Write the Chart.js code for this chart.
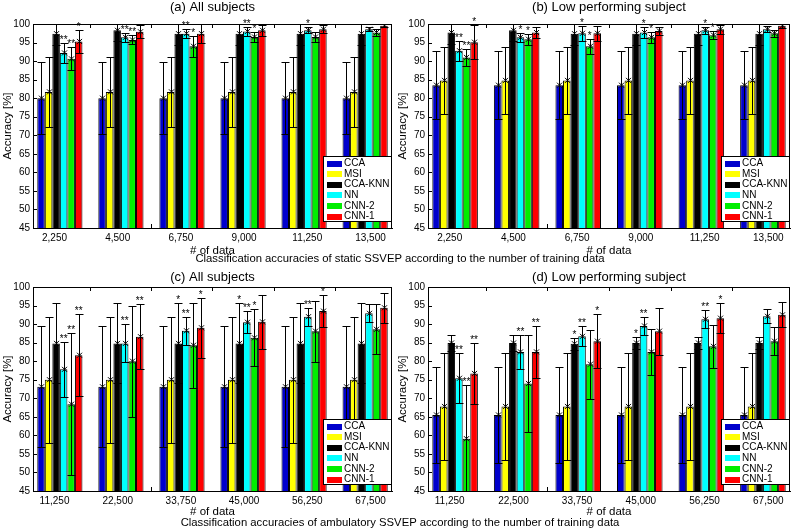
<!DOCTYPE html>
<html><head><meta charset="utf-8">
<script src="https://cdn.jsdelivr.net/npm/chart.js@4.4.0/dist/chart.umd.min.js"></script>
<style>
body{margin:0;background:#fff;width:800px;height:531px;position:relative;overflow:hidden;font-family:"Liberation Sans",Arial,sans-serif;color:#000;}
canvas{position:absolute;}
.cap{position:absolute;left:0;width:800px;text-align:center;font-size:11.3px;line-height:14px;white-space:nowrap;}
</style></head><body>
<canvas id="ca" width="400" height="262" style="left:0;top:0"></canvas>
<canvas id="cb" width="405" height="262" style="left:395px;top:0"></canvas>
<canvas id="cc" width="400" height="266" style="left:0;top:265px"></canvas>
<canvas id="cd" width="405" height="266" style="left:395px;top:265px"></canvas>
<div class="cap" style="top:251px">Classification accuracies of static SSVEP according to the number of training data</div>
<div class="cap" style="top:515px">Classification accuracies of ambulatory SSVEP according to the number of training data</div>
<script>
const methods = ['CCA','MSI','CCA-KNN','NN','CNN-2','CNN-1'];
const barColors = ['#0000cc','#ffff00','#000000','#00ffff','#00ee00','#ff0000'];
const staticSizes = ['2,250','4,500','6,750','9,000','11,250','13,500'];
const ambulatorySizes = ['11,250','22,500','33,750','45,000','56,250','67,500'];
const accuracyTicks = [45,50,55,60,65,70,75,80,85,90,95,100];

// (a) static, all subjects
const meanA = [
  [80.0,80.0,80.0,80.0,80.0,80.0],
  [81.7,81.7,81.7,81.7,81.7,81.7],
  [97.4,98.3,97.4,97.4,97.4,97.4],
  [92.2,96.4,97.4,98.0,98.3,98.6],
  [90.6,95.7,94.0,96.5,96.5,97.7],
  [95.3,97.9,97.4,98.3,98.6,99.5]
];
const errA = [
  [9.7,9.7,9.7,9.7,9.7,9.7],
  [9.4,9.4,9.4,9.4,9.4,9.4],
  [3.0,3.0,3.0,3.0,3.0,3.0],
  [2.8,1.2,1.3,1.3,0.8,0.6],
  [3.1,1.2,2.8,1.3,1.3,1.0],
  [3.2,1.7,2.5,1.5,1.0,0.4]
];
const starA = [
  ['','','','','',''],
  ['','','','','',''],
  ['','','','','',''],
  ['**','**','**','**','*',''],
  ['**','**','*','*','',''],
  ['*','','','','','']
];
// (b) static, low performing subject
const meanB = [
  [83.5,83.5,83.5,83.5,83.5,83.5],
  [84.8,84.8,84.8,84.8,84.8,84.8],
  [97.7,98.3,97.4,97.4,97.4,97.4],
  [92.8,96.4,97.5,97.7,98.3,98.6],
  [91.0,95.9,94.0,96.4,97.0,97.5],
  [95.1,97.7,97.5,98.1,98.6,99.5]
];
const errB = [
  [9.1,9.1,9.1,9.1,9.1,9.1],
  [9.1,9.1,9.1,9.1,9.1,9.1],
  [3.0,3.0,3.0,3.0,3.0,3.0],
  [2.7,1.3,2.0,1.5,0.9,0.8],
  [2.3,1.5,2.0,1.5,1.0,1.0],
  [4.5,1.5,2.0,1.2,1.2,0.5]
];
const starB = [
  ['','','','','',''],
  ['','','','','',''],
  ['','','','','',''],
  ['**','*','*','*','*',''],
  ['**','*','*','*','*',''],
  ['*','','','','','']
];
// (c) ambulatory, all subjects
const meanC = [
  [73.1,73.1,73.1,73.1,73.1,73.1],
  [75.0,75.0,75.0,75.0,75.0,75.0],
  [84.8,84.8,84.8,84.8,84.8,84.8],
  [77.8,84.8,88.2,90.5,92.0,92.9],
  [68.4,80.0,84.3,86.3,88.1,88.6],
  [81.6,86.6,89.0,90.6,93.5,94.4]
];
const errC = [
  [16.3,16.3,16.3,16.3,16.3,16.3],
  [17.0,17.0,17.0,17.0,17.0,17.0],
  [10.8,10.8,10.8,10.8,10.8,10.8],
  [7.4,5.1,3.8,3.0,2.4,2.4],
  [19.2,15.0,11.4,7.7,8.2,6.7],
  [11.0,8.7,8.1,7.3,4.3,4.0]
];
const starC = [
  ['','','','','',''],
  ['','','','','',''],
  ['','','*','*','',''],
  ['**','**','**','**','**',''],
  ['**','','','*','',''],
  ['**','**','*','','*','']
];
// (d) ambulatory, low performing subject
const meanD = [
  [65.5,65.5,65.5,65.5,65.5,65.5],
  [67.8,67.8,67.8,67.8,67.8,67.8],
  [84.9,84.9,84.7,84.9,84.9,84.9],
  [75.4,82.5,86.7,89.5,91.3,92.1],
  [59.1,74.0,79.2,82.5,84.0,85.4],
  [76.7,82.5,85.4,88.1,91.6,92.5]
];
const errD = [
  [13.0,13.0,13.0,13.0,13.0,13.0],
  [14.5,14.5,14.5,14.5,14.5,14.5],
  [2.1,2.1,1.6,1.5,1.5,1.5],
  [6.8,4.5,2.7,2.4,2.4,1.9],
  [14.5,13.0,9.3,6.2,5.8,3.7],
  [8.2,7.0,7.3,6.3,4.1,3.4]
];
const starD = [
  ['','','','','',''],
  ['','','','','',''],
  ['','','*','*','',''],
  ['**','**','**','**','**',''],
  ['**','','','','',''],
  ['**','**','*','','*','']
];

const FONT = '"Liberation Sans", Arial, sans-serif';
Chart.defaults.font.family = FONT;
Chart.defaults.color = '#000';
const LABEL_SPREAD = 1.035;

const extras = {
  id: 'extras',
  afterDatasetsDraw(chart) {
    const {ctx, chartArea: a, scales: {y}} = chart;
    ctx.save();
    ctx.beginPath(); ctx.rect(a.left, a.top, a.right - a.left, a.bottom - a.top); ctx.clip();
    ctx.strokeStyle = '#000'; ctx.lineWidth = 1;
    chart.data.datasets.forEach((ds, di) => {
      chart.getDatasetMeta(di).data.forEach((bar, i) => {
        const m = ds.data[i].y, e = ds.err[i];
        const bx = Math.round(bar.x) + 0.5;
        const yt = Math.round(y.getPixelForValue(m + e)) + 0.5;
        const yb = Math.round(y.getPixelForValue(m - e)) + 0.5;
        const ym = y.getPixelForValue(m);
        ctx.beginPath();
        ctx.moveTo(bx, yt); ctx.lineTo(bx, yb);
        ctx.moveTo(bx - 4, yt); ctx.lineTo(bx + 4, yt);
        ctx.moveTo(bx - 4, yb); ctx.lineTo(bx + 4, yb);
        ctx.moveTo(bx - 2.5, ym - 2.5); ctx.lineTo(bx + 2.5, ym + 2.5);
        ctx.moveTo(bx - 2.5, ym + 2.5); ctx.lineTo(bx + 2.5, ym - 2.5);
        ctx.stroke();
      });
    });
    ctx.restore();
    ctx.save();
    ctx.fillStyle = '#000'; ctx.font = '10px ' + FONT; ctx.textAlign = 'center'; ctx.textBaseline = 'alphabetic';
    chart.data.datasets.forEach((ds, di) => {
      chart.getDatasetMeta(di).data.forEach((bar, i) => {
        const s = ds.stars[i]; if (!s) return;
        const m = ds.data[i].y, e = ds.err[i];
        const yt = y.getPixelForValue(m + e);
        ctx.fillText(s, bar.x, yt);
      });
    });
    ctx.restore();
  },
  afterDraw(chart) {
    const {ctx, chartArea: a, scales: {x, y}} = chart;
    const g = chart.options.plugins.extras;
    ctx.save();
    ctx.strokeStyle = '#000'; ctx.lineWidth = 1;
    ctx.beginPath();
    ctx.moveTo(a.left, a.top + 0.5); ctx.lineTo(a.right, a.top + 0.5);
    ctx.moveTo(a.right - 0.5, a.top); ctx.lineTo(a.right - 0.5, a.bottom);
    accuracyTicks.forEach(v => {
      const py = Math.round(y.getPixelForValue(v)) + 0.5;
      ctx.moveTo(a.left, py); ctx.lineTo(a.left + 4, py);
    });
    [1.5, 2.5, 3.5, 4.5, 5.5].forEach(v => {
      const px = Math.round(x.getPixelForValue(v)) + 0.5;
      ctx.moveTo(px, a.top); ctx.lineTo(px, a.top + 4);
    });
    const pb = Math.round(x.getPixelForValue(2.5)) + 0.5;
    ctx.moveTo(pb, a.bottom); ctx.lineTo(pb, a.bottom - 4);
    ctx.stroke();
    // title centred over the plot frame
    ctx.fillStyle = '#000'; ctx.font = '13px ' + FONT; ctx.textAlign = 'center'; ctx.textBaseline = 'middle';
    ctx.fillText(g.title, (a.left + a.right) / 2, g.titleY);
    // legend
    const w = 69, h = 66;
    const lx = Math.round(a.right - w), ly = Math.round(a.bottom - 6 - h);
    ctx.fillStyle = '#fff'; ctx.fillRect(lx, ly, w, h);
    ctx.strokeRect(lx + 0.5, ly + 0.5, w - 1, h - 1);
    ctx.font = '10px ' + FONT; ctx.textBaseline = 'middle'; ctx.textAlign = 'left';
    chart.data.datasets.forEach((ds, i) => {
      const cy = ly + 7.5 + i * 10.6;
      ctx.fillStyle = ds.backgroundColor; ctx.fillRect(lx + 4, Math.round(cy - 3), 15, 6);
      ctx.fillStyle = '#000'; ctx.fillText(ds.label, lx + 21, cy);
    });
    ctx.restore();
  }
};

function makePanel(id, title, cats, means, errs, stars, g) {
  const datasets = methods.map((name, k) => ({
    label: name,
    data: means[k].map((v, i) => ({x: i + 1, y: v})),
    err: errs[k],
    stars: stars[k],
    backgroundColor: barColors[k],
    borderColor: '#000',
    borderWidth: 1,
    borderSkipped: false,
    barPercentage: 1.0,
    categoryPercentage: 0.74
  }));
  new Chart(document.getElementById(id), {
    type: 'bar',
    data: {datasets},
    plugins: [extras],
    options: {
      responsive: false,
      animation: false,
      layout: {padding: {left: 0, right: g.padRight, top: g.top, bottom: 0}},
      plugins: {
        legend: {display: false},
        tooltip: {enabled: false},
        title: {display: false},
        extras: {title: title, titleY: g.titleY}
      },
      scales: {
        x: {
          type: 'linear', min: 0.56, max: 6.44, offset: false,
          grid: {display: false, drawTicks: false},
          border: {display: true, color: '#000', width: 1},
          afterBuildTicks: s => { s.ticks = cats.map((c, i) => ({value: 3.5 + (i + 1 - 3.5) * LABEL_SPREAD})); },
          afterFit: s => { s.height = g.xH; },
          ticks: {autoSkip: false, maxRotation: 0, padding: 4, font: {size: 10}, color: '#000',
                  callback: (v, idx) => cats[idx]},
          title: {display: true, text: '# of data', font: {size: 11.5}, color: '#000',
                  padding: {top: 0, bottom: g.xtB}}
        },
        y: {
          min: 45, max: 100,
          grid: {display: false, drawTicks: false},
          border: {display: true, color: '#000', width: 1},
          afterBuildTicks: s => { s.ticks = accuracyTicks.map(v => ({value: v})); },
          afterFit: s => { s.width = 33; },
          ticks: {padding: 3, font: {size: 10}, color: '#000'},
          title: {display: true, text: 'Accuracy [%]', font: {size: 11.5}, color: '#000',
                  padding: {top: 1, bottom: 0}}
        }
      }
    }
  });
}

const gTop = {padRight: 8, top: 24, titleY: 7.5, xH: 34, xtB: 4.6};
const gTopR = {padRight: 10, top: 24, titleY: 7.5, xH: 34, xtB: 4.6};
const gBot = {padRight: 8, top: 22, titleY: 12, xH: 40, xtB: 11.8};
const gBotR = {padRight: 10, top: 22, titleY: 12, xH: 40, xtB: 11.8};

makePanel('ca', '(a) All subjects', staticSizes, meanA, errA, starA, gTop);
makePanel('cb', '(b) Low performing subject', staticSizes, meanB, errB, starB, gTopR);
makePanel('cc', '(c) All subjects', ambulatorySizes, meanC, errC, starC, gBot);
makePanel('cd', '(d) Low performing subject', ambulatorySizes, meanD, errD, starD, gBotR);
</script>
</body></html>
